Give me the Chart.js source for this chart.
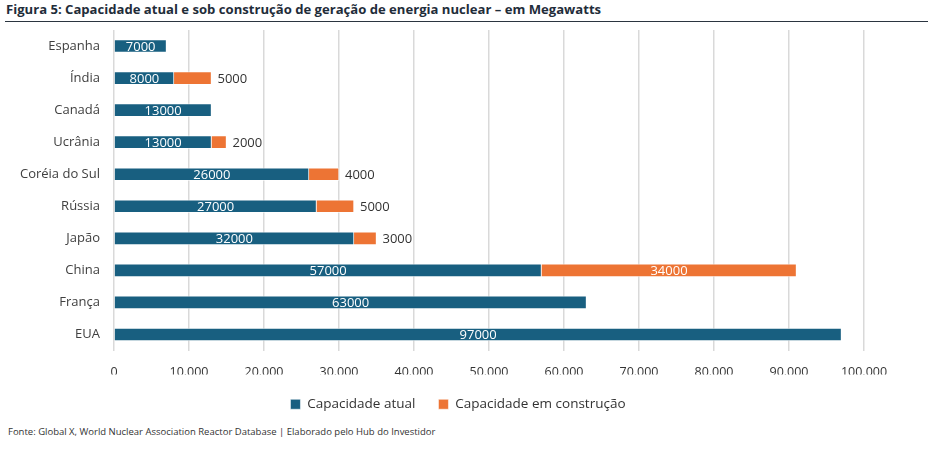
<!DOCTYPE html>
<html>
<head>
<meta charset="utf-8">
<script src="https://cdn.jsdelivr.net/npm/chart.js@4/dist/chart.umd.min.js"></script>
<style>
  html, body { margin: 0; padding: 0; background: #fff; }
  body { width: 932px; height: 457px; position: relative; overflow: hidden; font-family: "Open Sans", sans-serif; }
  #title { position: absolute; left: 6px; top: 0px; font-size: 13.1px; font-weight: bold; color: #1f2d3a; white-space: nowrap; line-height: 18px; }
  #rule { position: absolute; left: 5px; top: 21px; width: 923px; height: 0; border-top: 1.5px solid #2b3540; }
  #wrap { position: absolute; left: 0; top: 24px; width: 932px; height: 401px; }
  #footer { position: absolute; left: 8px; top: 425px; font-size: 9.5px; color: #333; white-space: nowrap; }
</style>
</head>
<body>
<div id="title">Figura 5: Capacidade atual e sob construção de geração de energia nuclear – em Megawatts</div>
<div id="rule"></div>
<div id="wrap"><canvas id="c"></canvas></div>
<div id="footer">Fonte: Global X, World Nuclear Association Reactor Database | Elaborado pelo Hub do Investidor</div>
<script>
const categories = ["Espanha", "Índia", "Canadá", "Ucrânia", "Coréia do Sul", "Rússia", "Japão", "China", "França", "EUA"];
const capacidadeAtual = [7000, 8000, 13000, 13000, 26000, 27000, 32000, 57000, 63000, 97000];
const capacidadeConstrucao = [null, 5000, null, 2000, 4000, 5000, 3000, 34000, null, null];
const xTicks = [0, 10000, 20000, 30000, 40000, 50000, 60000, 70000, 80000, 90000, 100000];

const BLUE = "#185f80";
const ORANGE = "#ed7434";

const valueLabels = {
  id: "valueLabels",
  afterDatasetsDraw(chart) {
    const ctx = chart.ctx;
    ctx.save();
    ctx.font = "13px 'Open Sans'";
    ctx.textBaseline = "middle";
    chart.data.datasets.forEach((ds, di) => {
      const meta = chart.getDatasetMeta(di);
      meta.data.forEach((bar, i) => {
        const v = ds.data[i];
        if (v == null) return;
        const txt = String(v);
        const w = ctx.measureText(txt).width;
        const left = Math.min(bar.base, bar.x), right = Math.max(bar.base, bar.x);
        if (right - left > w + 16) {
          ctx.fillStyle = "#ffffff";
          ctx.textAlign = "center";
          ctx.fillText(txt, (left + right) / 2, bar.y + 1);
        } else {
          ctx.fillStyle = "#333333";
          ctx.textAlign = "left";
          ctx.fillText(txt, right + 6, bar.y + 1);
        }
      });
    });
    ctx.restore();
  }
};

const legendShift = {
  id: "legendShift",
  afterLayout(chart) {
    if (chart.legend) { chart.legend.left += 26; chart.legend.right += 26; }
  }
};

new Chart(document.getElementById("c"), {
  type: "bar",
  data: {
    labels: categories,
    datasets: [
      { label: "Capacidade atual", data: capacidadeAtual, backgroundColor: BLUE, borderColor: "rgba(255,255,255,0.55)", borderWidth: 1, barThickness: 13 },
      { label: "Capacidade em construção", data: capacidadeConstrucao, backgroundColor: ORANGE, borderColor: "rgba(255,255,255,0.55)", borderWidth: 1, barThickness: 13 }
    ]
  },
  options: {
    indexAxis: "y",
    responsive: true,
    maintainAspectRatio: false,
    animation: false,
    layout: { padding: { top: 6, right: 68, bottom: 4, left: 0 } },
    plugins: {
      legend: {
        position: "bottom",
        labels: { boxWidth: 10, boxHeight: 10, font: { size: 13.5, family: "'Open Sans'" }, color: "#333", padding: 23 }
      },
      tooltip: { enabled: false }
    },
    scales: {
      x: {
        stacked: true,
        min: 0, max: 100000,
        afterBuildTicks(scale) { scale.ticks = xTicks.map(v => ({ value: v })); },
        afterFit(scale) { scale.height = 24; },
        ticks: {
          font: { size: 12.5, family: "'Open Sans'" }, color: "#333", padding: 14,
          callback: v => v.toLocaleString("de-DE")
        },
        grid: { color: "#d9d9d9", lineWidth: 1.5, drawTicks: false },
        border: { display: false }
      },
      y: {
        stacked: true,
        afterFit(scale) { scale.width = 114; scale.paddingTop = 0; scale.paddingBottom = 0; },
        ticks: { font: { size: 13, family: "'Open Sans'" }, color: "#404040", padding: 14 },
        grid: { display: false, drawTicks: false },
        border: { display: false }
      }
    }
  },
  plugins: [valueLabels, legendShift]
});
</script>
</body>
</html>
